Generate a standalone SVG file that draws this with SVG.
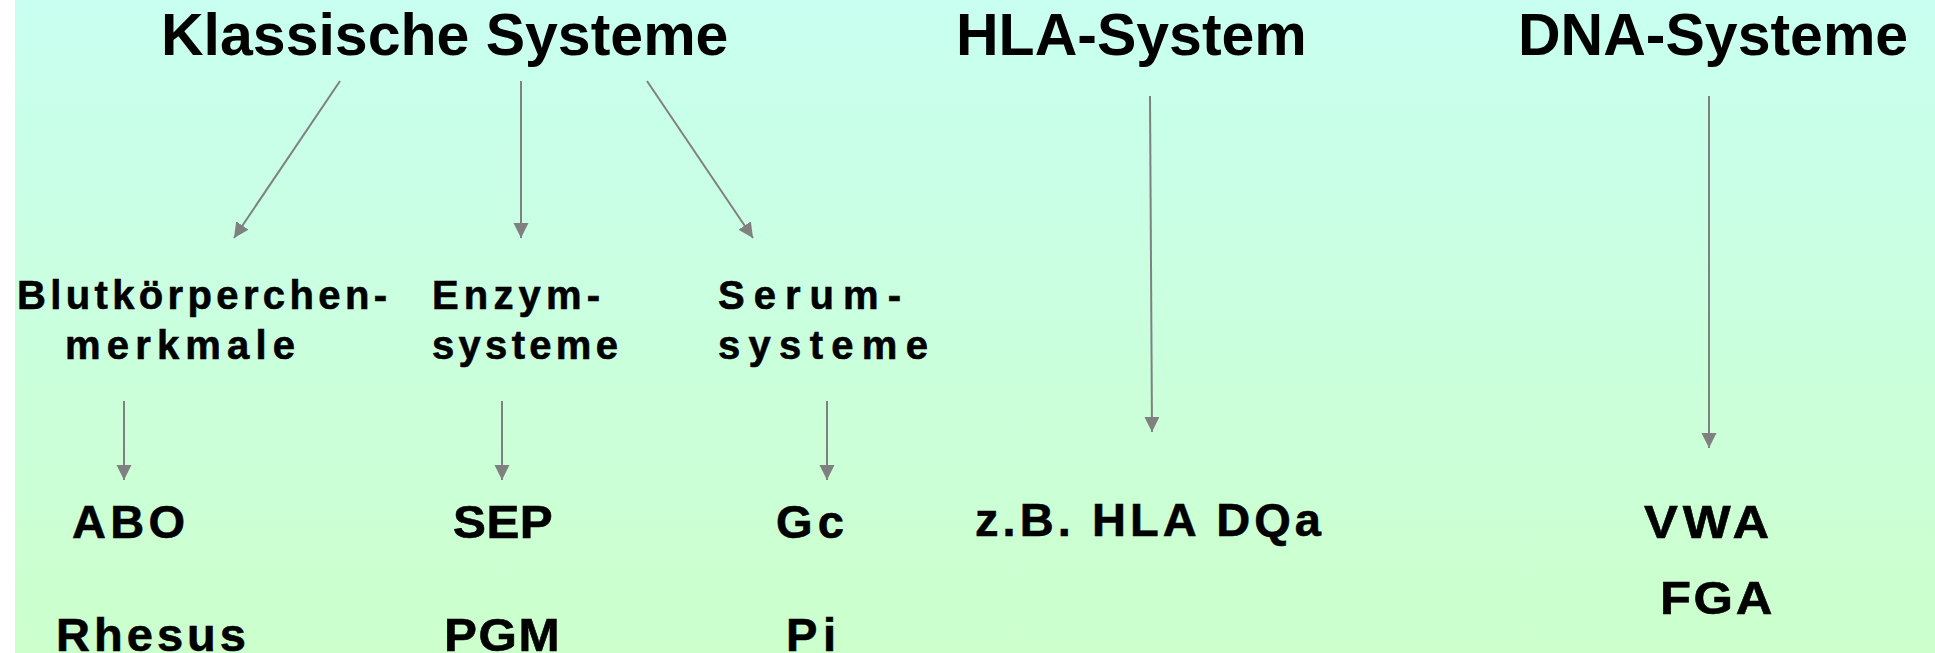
<svg xmlns="http://www.w3.org/2000/svg" width="1935" height="653" viewBox="0 0 1935 653">
<defs>
<linearGradient id="bg" x1="0" y1="0" x2="0" y2="1">
<stop offset="0" stop-color="#c8fff0"/>
<stop offset="1" stop-color="#ccffcc"/>
</linearGradient>
<marker id="ah" markerUnits="userSpaceOnUse" markerWidth="16" markerHeight="16" refX="15" refY="7.5" orient="auto" viewBox="0 0 16 16">
<path d="M0,0 L15,7.5 L0,15 z" fill="#808080"/>
</marker>
<style>
text{font-family:"Liberation Sans",Arial,sans-serif;font-weight:bold;fill:#000}
.title{font-size:59px}
.sub{font-size:40px;stroke:#000;stroke-width:0.6}
.item{font-size:47px;stroke:#000;stroke-width:0.6}
.conn line{stroke:#808080;stroke-width:2;marker-end:url(#ah)}
</style>
</defs>
<rect x="0" y="0" width="1935" height="653" fill="#ffffff"/>
<rect x="15" y="0" width="1920" height="653" fill="url(#bg)"/>

<g id="connectors" class="conn">
<line x1="340" y1="81" x2="234" y2="238"/>
<line x1="521" y1="81" x2="521" y2="238"/>
<line x1="647" y1="81" x2="753" y2="238"/>
<line x1="124" y1="401" x2="124" y2="480"/>
<line x1="502" y1="401" x2="502" y2="480"/>
<line x1="827" y1="401" x2="827" y2="480"/>
<line x1="1150" y1="96" x2="1152" y2="432"/>
<line x1="1709" y1="96" x2="1709" y2="448"/>
</g>

<g id="klassische"><text class="title" x="161" y="55">Klassische Systeme</text></g>
<g id="hla"><text class="title" x="956" y="55">HLA-System</text></g>
<g id="dna"><text class="title" x="1518" y="55">DNA-Systeme</text></g>

<g id="blut">
<text class="sub" x="17" y="309" textLength="370" lengthAdjust="spacing">Blutkörperchen-</text>
<text class="sub" x="65" y="359" textLength="230" lengthAdjust="spacing">merkmale</text>
</g>
<g id="enzym">
<text class="sub" x="432" y="309" textLength="168" lengthAdjust="spacing">Enzym-</text>
<text class="sub" x="432" y="359" textLength="186" lengthAdjust="spacing">systeme</text>
</g>
<g id="serum">
<text class="sub" x="718" y="309" textLength="183" lengthAdjust="spacing">Serum-</text>
<text class="sub" x="718" y="359" textLength="210" lengthAdjust="spacing">systeme</text>
</g>

<g id="abo"><text class="item" x="72" y="538" textLength="113" lengthAdjust="spacing">ABO</text></g>
<g id="rhesus"><text class="item" x="56" y="651" textLength="190" lengthAdjust="spacing">Rhesus</text></g>
<g id="sep"><text class="item" transform="translate(453,538) scale(1.05,1)" textLength="95" lengthAdjust="spacing">SEP</text></g>
<g id="pgm"><text class="item" transform="translate(444,651) scale(1.05,1)" textLength="110" lengthAdjust="spacing">PGM</text></g>
<g id="gc"><text class="item" x="776" y="538" textLength="68" lengthAdjust="spacing">Gc</text></g>
<g id="pi"><text class="item" x="786" y="651" textLength="50" lengthAdjust="spacing">Pi</text></g>
<g id="hladqa"><text class="item" x="975" y="536" textLength="346" lengthAdjust="spacing">z.B. HLA DQa</text></g>
<g id="vwa"><text class="item" transform="translate(1644,538) scale(1.08,1)" textLength="116" lengthAdjust="spacing">VWA</text></g>
<g id="fga"><text class="item" transform="translate(1660,614) scale(1.08,1)" textLength="104" lengthAdjust="spacing">FGA</text></g>
</svg>
